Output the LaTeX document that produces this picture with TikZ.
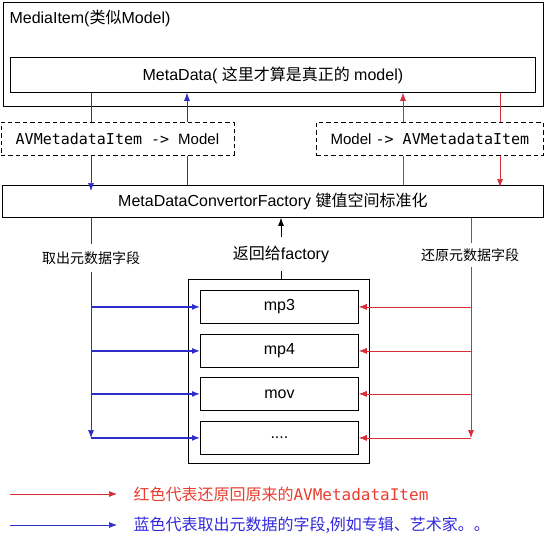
\documentclass[tikz,border=0pt]{standalone}
\usepackage{fontspec}
\setmainfont{Liberation Sans}
\setmonofont{DejaVu Sans Mono}
\newfontfamily\cjk{Noto Sans CJK SC}
\usetikzlibrary{arrows.meta}
\definecolor{lineblue}{RGB}{45,45,200}
\definecolor{linered}{RGB}{215,45,55}
\definecolor{textred}{RGB}{232,62,48}
\definecolor{textblue}{RGB}{50,40,220}
\tikzset{
  box/.style={draw, line width=0.8pt, inner sep=0pt, anchor=north west},
  dbox/.style={box, dash pattern=on 4.5pt off 3pt, font=\fontsize{15}{17}\selectfont},
  fmt/.style={box, minimum width=158, minimum height=33},
  bline/.style={lineblue, line width=0.7pt},
  rline/.style={linered, line width=0.7pt},
  tip/.style={-{Latex[length=8pt,width=6pt]}},
  lbl/.style={font=\fontsize{14}{16}\selectfont\cjk, inner xsep=2pt}
}

\begin{document}
\begin{tikzpicture}[x=1pt, y=-1pt, font=\fontsize{16}{18}\selectfont]
    \useasboundingbox (0,0) rectangle (546,542);
% Model side: media item with its metadata
    \node[box, minimum width=540, minimum height=104] (media) at (3,2) {};
    \node[anchor=west] (medialbl) at (6,18) {MediaItem({\cjk 类似}Model)};
    \node[box, minimum width=525, minimum height=35] (meta) at (10,57)
        {MetaData( {\cjk 这里才算是真正的} model)};
% The two conversions
    \node[dbox, minimum width=233, minimum height=33] (tomodel) at (0.5,122)
        {{\ttfamily AVMetadataItem ->\ }Model};
    \node[dbox, minimum width=227, minimum height=33] (toitem) at (316,122)
        {Model {\ttfamily -> AVMetadataItem}};
    \node[box, minimum width=541, minimum height=32] (factory) at (2,185)
        {MetaDataConvertorFactory {\cjk 键值空间标准化}};
% Container with the formats
    \node[box, minimum width=181, minimum height=184] (formats) at (188,279) {};
    \node[fmt] (mp3) at (200,290) {mp3};
    \node[fmt] (mp4) at (200,334) {mp4};
    \node[fmt] (mov) at (200,377) {mov};
    \node[fmt] (dots) at (200,421) {....};
% x positions of the vertical lines
    \coordinate (b1) at (91,0);
    \coordinate (b2) at (187,0);
    \coordinate (r1) at (403,0);
    \coordinate (r2) at (500,0);
% Upper blue and red lines
    \draw[bline] (b1 |- meta.south) -- (b1 |- tomodel.north);
    \draw[bline, tip] (b1 |- tomodel.south) -- ([yshift=-6pt]b1 |- factory.north);
    \draw[bline] (b2 |- factory.north) -- (b2 |- tomodel.south);
    \draw[bline, tip] (b2 |- tomodel.north) -- (b2 |- meta.south);
    \draw[rline] (r1 |- factory.north) -- (r1 |- toitem.south);
    \draw[rline, tip] (r1 |- toitem.north) -- (r1 |- meta.south);
    \draw[rline] (r2 |- meta.south) -- (r2 |- toitem.north);
    \draw[rline, tip] (r2 |- toitem.south) -- ([yshift=-2pt]r2 |- factory.north);
% Lower lines with their labels
    \node[lbl, inner ysep=7pt] (pick) at (91,258) {取出元数据字段};
    \node[lbl, inner ysep=5pt] (restore) at (470,255) {还原元数据字段};
    \node[inner ysep=8pt] (back) at (281,254) {{\cjk 返回给}factory};
    \coordinate (pickend) at (91,438);
    \coordinate (restoreend) at (471,438);
    \draw[bline] (factory.south -| pick) -- (pick.north);
    \draw[bline, tip] (pick.south) -- (pickend);
    \draw[rline] (factory.south -| restoreend) -- (restoreend |- restore.north);
    \draw[rline, tip] (restoreend |- restore.south) -- (restoreend);
    \draw[line width=0.8pt] (back.south |- formats.north) -- (back.south);
    \draw[line width=0.8pt, tip] (back.north) -- (back.north |- factory.south);
    \foreach \f in {mp3,mp4,mov,dots}{
        \draw[bline, line width=1.2pt, tip] (pickend |- \f.west) -- (\f.west);
        \draw[rline, tip] (restoreend |- \f.east) -- (\f.east);
    }
% Legend
    \coordinate (redfrom) at (10,494);
    \coordinate (redto) at (117,494);
    \coordinate (bluefrom) at (10,525);
    \coordinate (blueto) at (117,525);
    \draw[rline, tip] (redfrom) -- (redto);
    \draw[bline, tip] (bluefrom) -- (blueto);
    \node[anchor=west, text=textred] (redtxt) at (130,494)
        {{\cjk 红色代表还原回原来的}{\ttfamily AVMetadataItem}};
    \node[anchor=west, text=textblue] (bluetxt) at (130,525)
        {\cjk 蓝色代表取出元数据的字段,例如专辑、艺术家。。};
\end{tikzpicture}
\end{document}
